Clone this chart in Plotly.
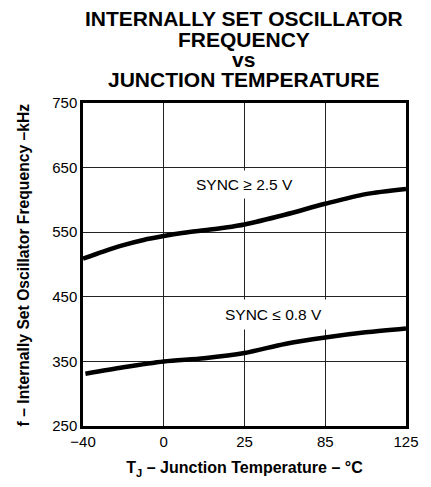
import plotly.graph_objects as go

# Temperature tick labels (evenly spaced on the chart's axis)
temp_ticks = ["\u221240", "0", "25", "85", "125"]
tick_pos = [0, 1, 2, 3, 4]

# Sample positions along the temperature axis (in tick-interval units)
x_high = [0, 0.25, 0.5, 0.75, 1, 1.25, 1.5, 1.75, 2, 2.5, 3, 3.5, 4]
f_high = [509, 520, 530, 538, 544, 549, 553, 557, 562, 577, 594, 609, 617]

x_low = [0.03, 0.5, 1, 1.5, 2, 2.5, 3, 3.5, 4]
f_low = [331, 341, 350, 355, 363, 377, 387, 395, 401]

y_ticks = [250, 350, 450, 550, 650, 750]

FONT = "Liberation Sans, Arial, sans-serif"

fig = go.Figure()
for xs, ys in [(x_high, f_high), (x_low, f_low)]:
    fig.add_trace(go.Scatter(x=xs, y=ys, mode="lines",
                             line=dict(color="black", width=4.5, shape="spline", smoothing=0.8),
                             showlegend=False, hoverinfo="skip"))

fig.update_layout(
    width=431, height=487,
    margin=dict(l=83, r=20, t=103, b=56),
    paper_bgcolor="white", plot_bgcolor="white",
    font=dict(family=FONT, color="black"),
)

fig.update_xaxes(range=[0, 4], tickvals=tick_pos, ticktext=temp_ticks,
                 showgrid=True, gridcolor="#222", gridwidth=1,
                 showline=True, linecolor="black", linewidth=2.5, mirror=True,
                 ticks="", tickfont=dict(size=15, family=FONT), zeroline=False,
                 title=dict(text="<b>T<sub>J</sub> \u2013 Junction Temperature \u2013 \u00b0C</b>",
                            font=dict(size=16, family=FONT), standoff=14))
fig.update_yaxes(range=[250, 750], tickvals=y_ticks,
                 showgrid=True, gridcolor="#222", gridwidth=1,
                 showline=True, linecolor="black", linewidth=2.5, mirror=True,
                 ticks="", tickfont=dict(size=15, family=FONT), zeroline=False)

# Y axis title
fig.add_annotation(text="<b>f \u2013 Internally Set Oscillator Frequency \u2013kHz</b>",
                   xref="paper", yref="paper", x=-0.183, y=0.5, textangle=-90,
                   xanchor="center", yanchor="middle", showarrow=False,
                   font=dict(size=15.7, family=FONT))

# Title lines
title_lines = ["INTERNALLY SET OSCILLATOR", "FREQUENCY", "vs", "JUNCTION TEMPERATURE"]
title_y = [17, 39, 59, 79]
for t, yy in zip(title_lines, title_y):
    fig.add_annotation(text="<b>%s</b>" % t, xref="paper", yref="paper",
                       x=(246 - 83) / 328, y=1 + (103 - yy) / 328,
                       xanchor="center", yanchor="middle", showarrow=False,
                       font=dict(size=21, family=FONT))

# Curve labels
fig.add_annotation(text="SYNC \u2265 2.5 V", x=2.0, y=(750 - (186 - 103) / 65.6 * 100),
                   xanchor="center", yanchor="middle", showarrow=False,
                   bgcolor="white", borderpad=5, font=dict(size=15.5, family=FONT))
fig.add_annotation(text="SYNC \u2264 0.8 V", x=2.36, y=(750 - (318 - 103) / 65.6 * 100),
                   xanchor="center", yanchor="middle", showarrow=False,
                   bgcolor="white", borderpad=6, font=dict(size=15.5, family=FONT))

fig.write_html("out.html",
               config={"displayModeBar": False},
               post_script="document.body.style.margin='0';document.body.style.padding='0';"
                           "document.documentElement.style.overflow='hidden';")
